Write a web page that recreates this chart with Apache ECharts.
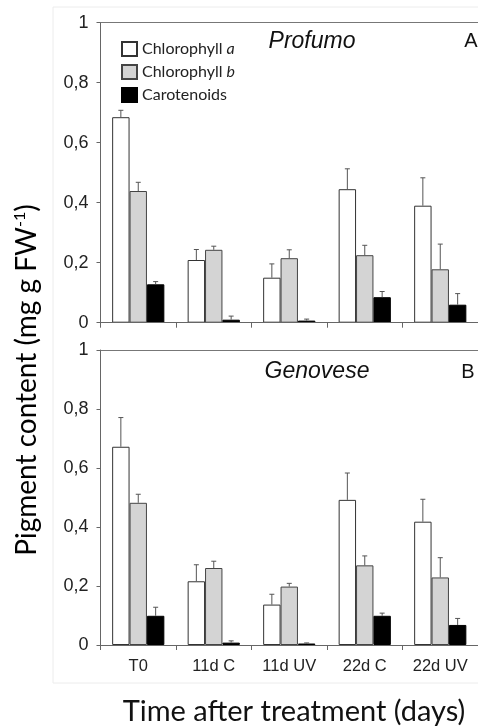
<!DOCTYPE html>
<html><head><meta charset="utf-8">
<script src="https://cdn.jsdelivr.net/npm/echarts@6/dist/echarts.min.js"></script>
<style>html,body{margin:0;padding:0;background:#fff}#c{width:478px;height:727px}</style>
</head><body><div id="c"></div>
<script>
const categories = ['T0', '11d C', '11d UV', '22d C', '22d UV'];
const seriesNames = ['Chlorophyll a', 'Chlorophyll b', 'Carotenoids'];
const yTickValues = [0, 0.2, 0.4, 0.6, 0.8, 1];

// Panel A – Profumo
const profumoChlA = [0.685, 0.209, 0.150, 0.445, 0.390];
const profumoChlAErr = [0.023, 0.035, 0.046, 0.068, 0.093];
const profumoChlB = [0.439, 0.243, 0.215, 0.225, 0.178];
const profumoChlBErr = [0.029, 0.012, 0.028, 0.033, 0.084];
const profumoCar = [0.128, 0.010, 0.007, 0.085, 0.060];
const profumoCarErr = [0.009, 0.012, 0.005, 0.019, 0.037];

// Panel B – Genovese
const genoveseChlA = [0.672, 0.216, 0.137, 0.492, 0.418];
const genoveseChlAErr = [0.099, 0.056, 0.035, 0.091, 0.076];
const genoveseChlB = [0.482, 0.261, 0.198, 0.270, 0.229];
const genoveseChlBErr = [0.029, 0.023, 0.011, 0.032, 0.067];
const genoveseCar = [0.099, 0.008, 0.005, 0.099, 0.068];
const genoveseCarErr = [0.029, 0.006, 0.002, 0.009, 0.022];

const BAR_W = 17.4;
const fills = ['#ffffff', '#d4d4d4', '#000000'];
const borders = ['#333333', '#444444', '#000000'];

const panels = [
  {vals: [profumoChlA, profumoChlB, profumoCar], errs: [profumoChlAErr, profumoChlBErr, profumoCarErr]},
  {vals: [genoveseChlA, genoveseChlB, genoveseCar], errs: [genoveseChlAErr, genoveseChlBErr, genoveseCarErr]}
];

const grids = [
  {left: 100.5, top: 22.7, width: 389, height: 300},
  {left: 100.5, top: 350, width: 389, height: 295}
];

const xAxes = [], yAxes = [], series = [];
grids.forEach((g, gi) => {
  xAxes.push({
    type: 'category', gridIndex: gi, data: categories, position: 'bottom',
    axisLine: {lineStyle: {color: '#666', width: 1}},
    axisTick: {show: true, length: 5, lineStyle: {color: '#666'}},
    axisLabel: {show: gi === 1, interval: 0, hideOverlap: false, fontFamily: 'Liberation Sans', fontSize: 16.5, color: '#222', margin: 13},
    z: 5
  });
  xAxes.push({
    type: 'category', gridIndex: gi, data: categories, position: 'top',
    axisLine: {lineStyle: {color: '#777', width: 1}},
    axisTick: {show: false}, axisLabel: {show: false}
  });
  yAxes.push({
    type: 'value', gridIndex: gi, min: 0, max: 1, interval: 0.2,
    axisLine: {show: true, lineStyle: {color: '#666'}},
    axisTick: {show: true, length: 4, lineStyle: {color: '#666'}},
    splitLine: {show: false},
    axisLabel: {fontFamily: 'Liberation Sans', fontSize: 18, color: '#222', margin: 12,
      formatter: v => String(Math.round(v * 10) / 10).replace('.', ',')}
  });
});

panels.forEach((p, gi) => {
  p.vals.forEach((arr, si) => {
    series.push({
      name: seriesNames[si], type: 'bar', xAxisIndex: gi * 2, yAxisIndex: gi,
      data: arr, barWidth: BAR_W, barGap: '0%',
      itemStyle: {color: fills[si], borderColor: borders[si], borderWidth: 1},
      silent: true, animation: false
    });
  });
  p.vals.forEach((arr, si) => {
    const off = (si - 1) * BAR_W;
    series.push({
      type: 'custom', xAxisIndex: gi * 2, yAxisIndex: gi, z: 10, animation: false, silent: true,
      data: arr.map((v, i) => [i, v, p.errs[si][i]]),
      renderItem: (params, api) => {
        const c = api.value(0), v = api.value(1), e = api.value(2);
        const b = api.coord([c, v]);
        const t = api.coord([c, v + e]);
        const x = b[0] + off;
        return {type: 'group', children: [
          {type: 'line', shape: {x1: x, y1: b[1], x2: x, y2: t[1]}, style: {stroke: '#555', lineWidth: 1}},
          {type: 'line', shape: {x1: x - 2.5, y1: t[1], x2: x + 2.5, y2: t[1]}, style: {stroke: '#555', lineWidth: 1}}
        ]};
      }
    });
  });
});

const chart = echarts.init(document.getElementById('c'), null, {renderer: 'canvas'});
chart.setOption({
  animation: false,
  backgroundColor: '#ffffff',
  grid: grids,
  xAxis: xAxes,
  yAxis: yAxes,
  legend: {
    data: seriesNames, orient: 'vertical', left: 116, top: 36,
    itemWidth: 15, itemHeight: 14, itemGap: 7, icon: 'rect', selectedMode: false,
    textStyle: {fontFamily: 'Lato', fontSize: 16, color: '#222',
      rich: {n: {fontFamily: 'Lato', fontSize: 16, color: '#222'}, i: {fontFamily: 'Lato', fontSize: 16, fontStyle: 'italic', color: '#222'}}},
    formatter: name => {
      const m = name.match(/^(Chlorophyll )([ab])$/);
      return m ? '{n|' + m[1] + '}{i|' + m[2] + '}' : '{n|' + name + '}';
    }
  },
  graphic: [
    {type: 'rect', shape: {x: 53, y: 7, width: 440, height: 676}, style: {fill: 'none', stroke: '#ececec', lineWidth: 1}, z: -1},
    {type: 'text', x: 312, y: 42, style: {text: 'Profumo', font: 'italic 23px "Liberation Sans"', fill: '#111', textAlign: 'center', textVerticalAlign: 'middle'}},
    {type: 'text', x: 471, y: 41, style: {text: 'A', font: '20px "Liberation Sans"', fill: '#111', textAlign: 'center', textVerticalAlign: 'middle'}},
    {type: 'text', x: 317, y: 372, style: {text: 'Genovese', font: 'italic 23px "Liberation Sans"', fill: '#111', textAlign: 'center', textVerticalAlign: 'middle'}},
    {type: 'text', x: 468, y: 372, style: {text: 'B', font: '20px "Liberation Sans"', fill: '#111', textAlign: 'center', textVerticalAlign: 'middle'}},
    {type: 'text', x: 294, y: 712, style: {text: 'Time after treatment (days)', font: '29px Lato', fill: '#111', textAlign: 'center', textVerticalAlign: 'middle'}},
    {type: 'text', x: 27, y: 380, rotation: Math.PI / 2,
      style: {text: '{m|Pigment content (mg g FW}{s|-1}{m|)}', textAlign: 'center', textVerticalAlign: 'middle',
        rich: {m: {fontFamily: 'Lato', fontSize: 28, color: '#111'}, s: {fontFamily: 'Lato', fontSize: 16, color: '#111', verticalAlign: 'top', padding: [0, 0, 14, 0]}}}}
  ],
  series: series
});
</script></body></html>
